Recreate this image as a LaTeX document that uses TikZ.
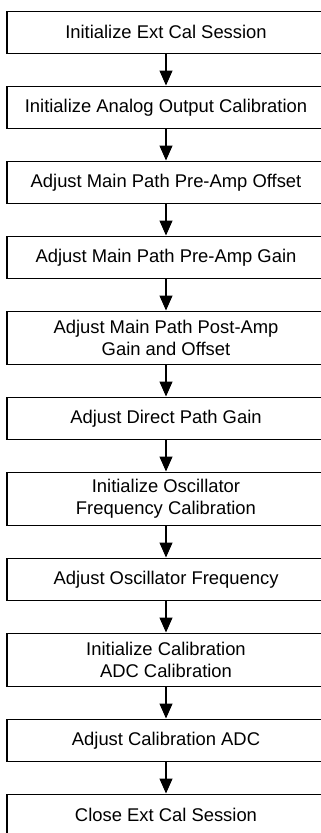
\documentclass[tikz,border=0pt]{standalone}
\usepackage{fontspec}
\setmainfont{Liberation Sans}
\usetikzlibrary{arrows.meta}
\begin{document}
\begin{tikzpicture}[x=1pt,y=-1pt,
  stepbox/.style={draw=black, line width=1.1pt, minimum width=318pt, anchor=north,
    align=center, inner sep=2pt, font=\fontsize{18.4}{21.5}\selectfont},
  single/.style={stepbox, minimum height=42.5pt},
  double/.style={stepbox, minimum height=53.5pt},
  flow/.style={draw=black, line width=1.1pt, -{Triangle[length=15pt,width=13pt]}}]
\useasboundingbox (0,0) rectangle (321,833);
\clip (0,0) rectangle (321,833);
\node[single] (b1) at (166,10.5) {Initialize Ext Cal Session};
\node[single] (b2) at (166,85.5) {Initialize Analog Output Calibration};
\node[single] (b3) at (166,160.5) {Adjust Main Path Pre-Amp Offset};
\node[single] (b4) at (166,235.5) {Adjust Main Path Pre-Amp Gain};
\node[double] (b5) at (166,310.5) {Adjust Main Path Post-Amp\\Gain and Offset};
\node[single] (b6) at (166,396.5) {Adjust Direct Path Gain};
\node[double] (b7) at (166,471.5) {Initialize Oscillator\\Frequency Calibration};
\node[single] (b8) at (166,557.5) {Adjust Oscillator Frequency};
\node[double] (b9) at (166,632.5) {Initialize Calibration\\ADC Calibration};
\node[single] (b10) at (166,718.5) {Adjust Calibration ADC};
\node[single] (b11) at (166,793.5) {Close Ext Cal Session};
\foreach \a/\b in {b1/b2,b2/b3,b3/b4,b4/b5,b5/b6,b6/b7,b7/b8,b8/b9,b9/b10,b10/b11}
  \draw[flow] (\a.south) -- (\b.north);
\end{tikzpicture}
\end{document}
